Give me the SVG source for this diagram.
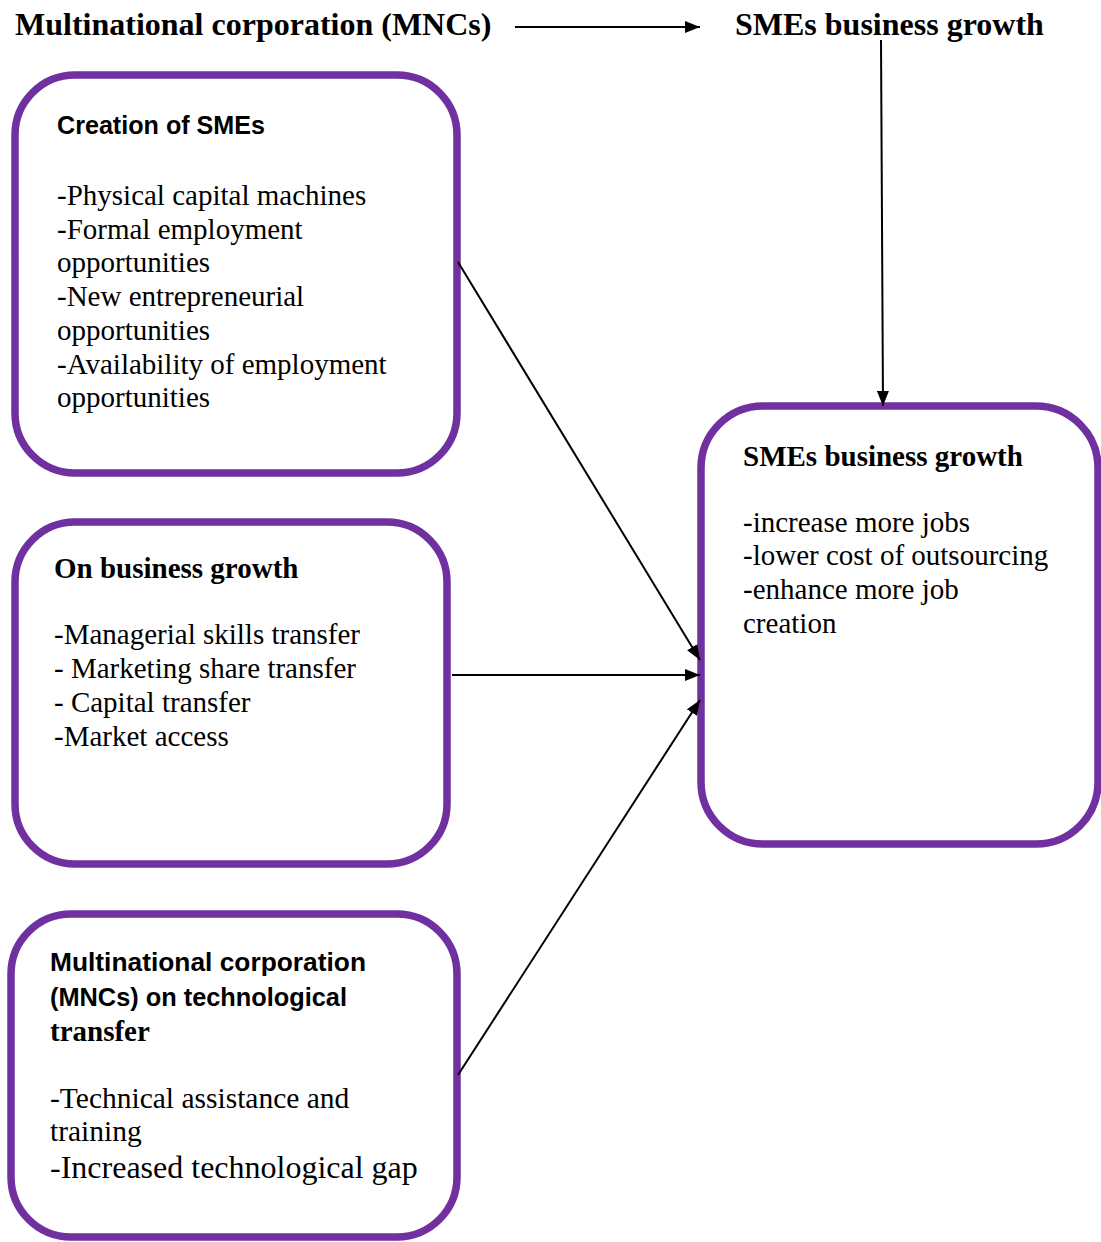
<svg xmlns="http://www.w3.org/2000/svg" width="1101" height="1242" viewBox="0 0 1101 1242">
<defs>
<style>
.box{fill:#fff;stroke:#7030A0;stroke-width:7.5}
.hs{font-family:"Liberation Serif","Times New Roman",serif;font-weight:bold;fill:#000}
.ha{font-family:"Liberation Sans",Arial,sans-serif;font-weight:bold;font-size:26px;fill:#000}
.b{font-family:"Liberation Serif","Times New Roman",serif;font-size:29px;fill:#000}
.c{stroke:#000;stroke-width:2;fill:none;marker-end:url(#ah)}
</style>
<marker id="ah" markerUnits="userSpaceOnUse" markerWidth="16" markerHeight="12" refX="15" refY="6" orient="auto">
<path d="M0,0 L15,6 L0,12 z" fill="#000"/>
</marker>
</defs>
<rect width="1101" height="1242" fill="#fff"/>
<g id="header">
<text class="hs" x="15" y="35" font-size="32">Multinational corporation (MNCs)</text>
<text class="hs" x="735" y="35" font-size="32">SMEs business growth</text>
</g>
<g id="creation">
<rect class="box" x="15" y="75" width="442" height="398" rx="60"/>
<text class="ha" x="57" y="134" textLength="208" lengthAdjust="spacingAndGlyphs">Creation of SMEs</text>
<text class="b" x="57" y="205">-Physical capital machines</text>
<text class="b" x="57" y="239">-Formal employment</text>
<text class="b" x="57" y="272">opportunities</text>
<text class="b" x="57" y="306">-New entrepreneurial</text>
<text class="b" x="57" y="340">opportunities</text>
<text class="b" x="57" y="374">-Availability of employment</text>
<text class="b" x="57" y="407">opportunities</text>
</g>
<g id="business">
<rect class="box" x="15" y="522" width="432" height="342" rx="60"/>
<text class="hs" x="54" y="578" font-size="29">On business growth</text>
<text class="b" x="54" y="644">-Managerial skills transfer</text>
<text class="b" x="54" y="678">- Marketing share transfer</text>
<text class="b" x="54" y="712">- Capital transfer</text>
<text class="b" x="54" y="746">-Market access</text>
</g>
<g id="tech">
<rect class="box" x="11" y="914" width="446" height="323" rx="60"/>
<text class="ha" x="50" y="971" textLength="316" lengthAdjust="spacingAndGlyphs">Multinational corporation</text>
<text class="ha" x="50" y="1006" textLength="297" lengthAdjust="spacingAndGlyphs">(MNCs) on technological</text>
<text class="hs" x="50" y="1041" font-size="29">transfer</text>
<text class="b" x="50" y="1108" style="font-size:29.5px">-Technical assistance and</text>
<text class="b" x="50" y="1141" style="font-size:29.5px">training</text>
<text class="b" x="50" y="1178" style="font-size:32px">-Increased technological gap</text>
</g>
<g id="growth">
<rect class="box" x="701" y="406" width="397" height="438" rx="62"/>
<text class="hs" x="743" y="466" font-size="29">SMEs business growth</text>
<text class="b" x="743" y="532">-increase more jobs</text>
<text class="b" x="743" y="565">-lower cost of outsourcing</text>
<text class="b" x="743" y="599">-enhance more job</text>
<text class="b" x="743" y="633">creation</text>
</g>
<g id="connectors">
<line class="c" x1="515" y1="27" x2="700" y2="27"/>
<line class="c" x1="881" y1="40" x2="883" y2="406"/>
<line class="c" x1="458" y1="262" x2="700" y2="660"/>
<line class="c" x1="452" y1="675" x2="700" y2="675"/>
<line class="c" x1="458" y1="1075" x2="700" y2="700"/>
</g>
</svg>
